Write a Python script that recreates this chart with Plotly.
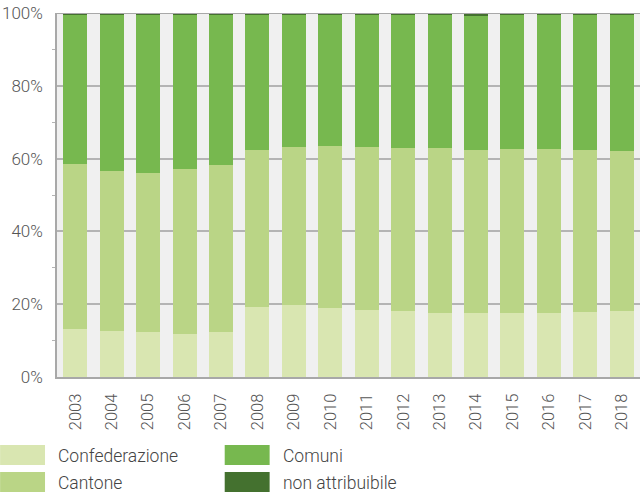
import plotly.graph_objects as go

years = [str(y) for y in range(2003, 2019)]
confederazione = [13.2, 12.6, 12.4, 11.9, 12.4, 19.1, 19.7, 18.9, 18.4, 18.1, 17.7, 17.7, 17.7, 17.7, 17.9, 18.2]
cantone_cum = [58.5, 56.5, 56.0, 57.1, 58.2, 62.3, 63.1, 63.5, 63.2, 62.8, 62.8, 62.3, 62.6, 62.6, 62.3, 62.0]
non_attribuibile = [0.3, 0.3, 0.3, 0.3, 0.3, 0.3, 0.3, 0.3, 0.3, 0.3, 0.5, 0.8, 0.5, 0.5, 0.5, 0.5]
cantone = [round(c - f, 2) for c, f in zip(cantone_cum, confederazione)]
comuni = [round(100 - c - n, 2) for c, n in zip(cantone_cum, non_attribuibile)]

series_names = ["Confederazione", "Cantone", "Comuni", "non attribuibile"]
series_values = [confederazione, cantone, comuni, non_attribuibile]
colors = ["#d9e6b1", "#bad586", "#77b84f", "#44712f"]

W, H = 640, 492
PL, PR, PT, PB = 57, 641, 13, 377  # plot area in window pixels
L = PL
R = W - PR
T = PT
B = H - PB


def px2x(x):
    return (x - PL) / (PR - PL)


def px2y(y):
    return (PB - y) / (PB - PT)


fig = go.Figure()
for name, vals, col in zip(series_names, series_values, colors):
    fig.add_trace(go.Bar(x=years, y=vals, name=name, marker=dict(color=col, line=dict(width=0)),
                         showlegend=False, hoverinfo="skip"))

# legend drawn manually (large swatches)
leg = [(0, 445, series_names[0], colors[0]), (0, 472, series_names[1], colors[1]),
       (225, 445, series_names[2], colors[2]), (225, 472, series_names[3], colors[3])]
shapes = []
annotations = []
for x0, y0, name, col in leg:
    shapes.append(dict(type="rect", xref="paper", yref="paper",
                       x0=px2x(x0), x1=px2x(x0 + 45), y0=px2y(y0 + 20), y1=px2y(y0),
                       fillcolor=col, line=dict(width=0), layer="above"))
    annotations.append(dict(xref="paper", yref="paper", x=px2x(x0 + 56), y=px2y(y0 + 11),
                            text=name, showarrow=False, xanchor="left", yanchor="middle",
                            font=dict(family="Roboto", size=17.5, color="#444444", weight=300)))

fig.update_layout(
    width=W, height=H,
    margin=dict(l=L, r=max(R, 0), t=T, b=B, pad=0, autoexpand=False),
    barmode="stack",
    bargap=0.34,
    paper_bgcolor="white",
    plot_bgcolor="#f0f0f0",
    font=dict(family="Roboto", size=16, color="#555555", weight=300),
    shapes=shapes,
    annotations=annotations,
)
fig.update_xaxes(
    type="category", tickangle=-90, showgrid=False, ticks="", ticklabelstandoff=8,
    showline=True, linecolor="#a8a8a8", linewidth=2, automargin=False,
    tickfont=dict(family="Roboto", size=16.5, color="#555555", weight=300),
)
fig.update_yaxes(
    range=[0, 100], tickvals=[0, 20, 40, 60, 80, 100],
    ticktext=["0%", "20%", "40%", "60%", "80%", "100%"],
    showgrid=True, gridcolor="#b4b4b4", gridwidth=1.5,
    showline=True, linecolor="#a8a8a8", linewidth=1.5, automargin=False,
    ticks="", ticklabelstandoff=9, zeroline=False,
    minor=dict(tickvals=[10, 30, 50, 70, 90], ticks="outside", ticklen=3, tickcolor="#b4b4b4", showgrid=False),
    tickfont=dict(family="Roboto", size=17, color="#555555", weight=300),
)
fig.add_hline(y=100, line=dict(color="#a8a8a8", width=2))

fig.write_html("out.html", config={"displayModeBar": False},
               post_script="document.body.style.margin='0';")
